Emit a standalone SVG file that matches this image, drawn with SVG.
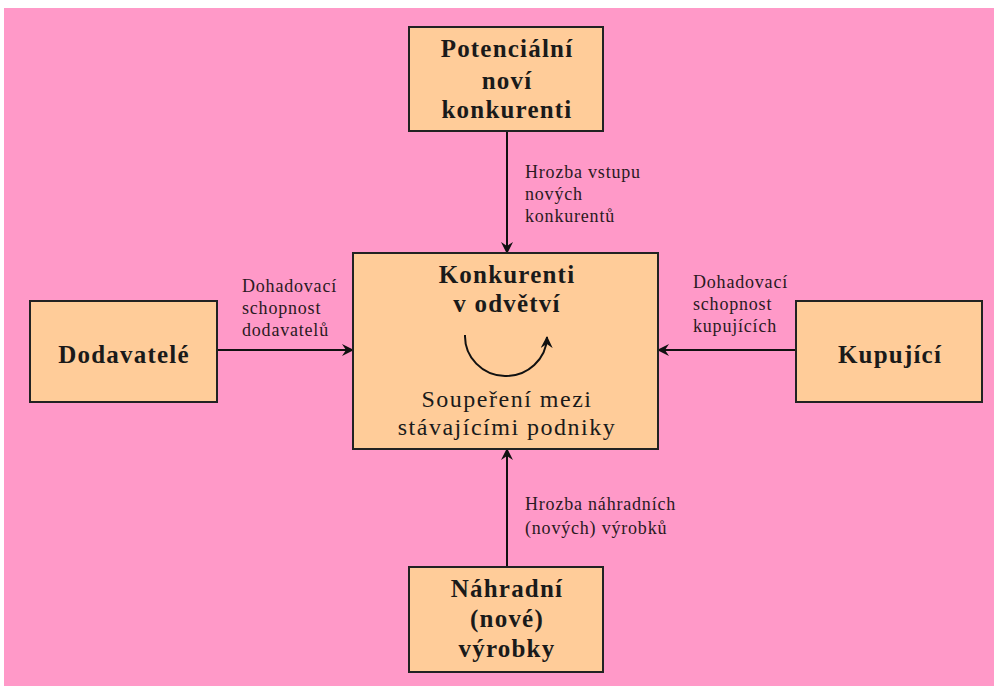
<svg xmlns="http://www.w3.org/2000/svg" width="994" height="686" viewBox="0 0 994 686">
<defs>
<style>
.box{fill:#ffcc99;stroke:#222;stroke-width:2}
.t{font-family:"Liberation Serif",serif;font-weight:bold;font-size:25px;letter-spacing:1.2px;fill:#1a1a1a;text-anchor:middle}
.r{font-family:"Liberation Serif",serif;font-size:24px;letter-spacing:1.5px;fill:#1a1a1a;text-anchor:middle}
.l{font-family:"Liberation Serif",serif;font-size:18px;letter-spacing:0.8px;fill:#2a1a22}
.c{stroke:#111;stroke-width:2;fill:none}
</style>
<marker id="ah" viewBox="0 0 12 12" refX="11" refY="6" markerWidth="12" markerHeight="12" markerUnits="userSpaceOnUse" orient="auto">
<path d="M0,0 L12,6 L0,12 L4,6 Z" fill="#111"/>
</marker>
</defs>
<rect x="0" y="0" width="994" height="686" fill="#ffffff"/>
<rect x="4" y="8" width="990" height="678" fill="#ff99c8"/>
<g id="connectors">
<line class="c" x1="507" y1="131" x2="507" y2="253" marker-end="url(#ah)"/>
<line class="c" x1="217" y1="350" x2="353" y2="350" marker-end="url(#ah)"/>
<line class="c" x1="796" y1="350" x2="658" y2="350" marker-end="url(#ah)"/>
<line class="c" x1="507" y1="567" x2="507" y2="449" marker-end="url(#ah)"/>
<text class="l" x="525" y="178">Hrozba vstupu</text>
<text class="l" x="525" y="200">nových</text>
<text class="l" x="525" y="222">konkurentů</text>
<text class="l" x="242" y="292">Dohadovací</text>
<text class="l" x="242" y="314">schopnost</text>
<text class="l" x="242" y="336">dodavatelů</text>
<text class="l" x="693" y="288">Dohadovací</text>
<text class="l" x="693" y="310">schopnost</text>
<text class="l" x="693" y="332">kupujících</text>
<text class="l" x="525" y="510">Hrozba náhradních</text>
<text class="l" x="525" y="534">(nových) výrobků</text>
</g>
<g id="potencialni">
<rect class="box" x="409" y="27" width="194" height="104"/>
<text class="t" x="507" y="57">Potenciální</text>
<text class="t" x="507" y="89">noví</text>
<text class="t" x="507" y="118">konkurenti</text>
</g>
<g id="konkurenti">
<rect class="box" x="353" y="253" width="305" height="196"/>
<text class="t" x="507" y="283">Konkurenti</text>
<text class="t" x="507" y="312">v odvětví</text>
<path class="c" d="M465,335 A41,40 0 0 0 547,337" marker-end="url(#ah)"/>
<text class="r" x="507" y="407">Soupeření mezi</text>
<text class="r" x="507" y="435">stávajícími podniky</text>
</g>
<g id="dodavatele">
<rect class="box" x="30" y="301" width="187" height="101"/>
<text class="t" x="124" y="363">Dodavatelé</text>
</g>
<g id="kupujici">
<rect class="box" x="796" y="301" width="186" height="101"/>
<text class="t" x="890" y="363">Kupující</text>
</g>
<g id="nahradni">
<rect class="box" x="409" y="567" width="194" height="105"/>
<text class="t" x="507" y="597">Náhradní</text>
<text class="t" x="507" y="627">(nové)</text>
<text class="t" x="507" y="657">výrobky</text>
</g>
</svg>
